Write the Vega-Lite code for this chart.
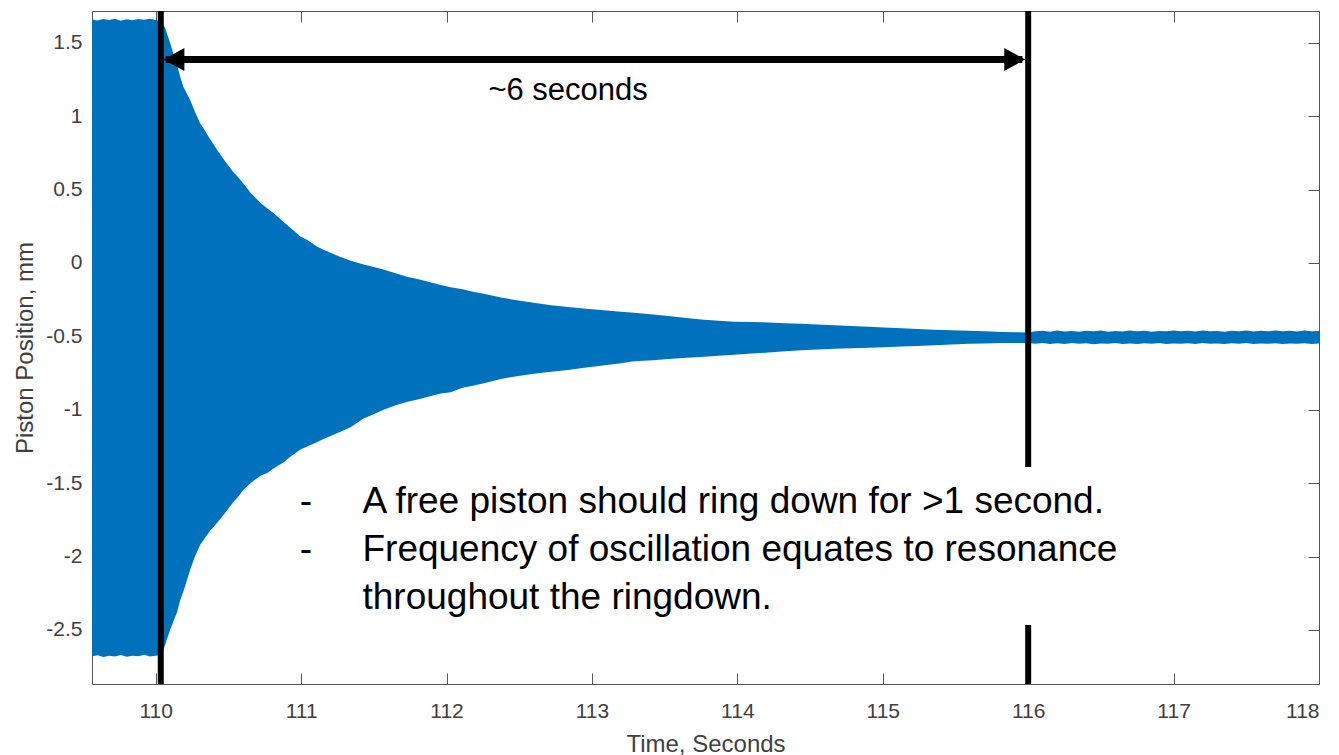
{
  "$schema": "https://vega.github.io/schema/vega-lite/v6.json",
  "width": 1227,
  "height": 673,
  "autosize": {"type": "none"},
  "padding": {"left": 92, "top": 11, "right": 20, "bottom": 71},
  "background": "white",
  "config": {
    "view": {"stroke": "#555555", "strokeWidth": 1},
    "axis": {
      "grid": false,
      "labelFont": "Liberation Sans",
      "titleFont": "Liberation Sans",
      "labelColor": "#404040",
      "titleColor": "#404040",
      "tickColor": "#555555",
      "domainColor": "#555555",
      "labelFontSize": 21,
      "titleFontSize": 24,
      "titleFontWeight": "normal",
      "domain": false
    }
  },
  "datasets": {
    "signal": [
      {"t": 109.562, "hi": 1.658, "lo": -2.679},
      {"t": 109.6, "hi": 1.652, "lo": -2.672},
      {"t": 109.64, "hi": 1.661, "lo": -2.684},
      {"t": 109.68, "hi": 1.655, "lo": -2.676},
      {"t": 109.72, "hi": 1.664, "lo": -2.681},
      {"t": 109.76, "hi": 1.65, "lo": -2.67},
      {"t": 109.8, "hi": 1.659, "lo": -2.683},
      {"t": 109.84, "hi": 1.653, "lo": -2.675},
      {"t": 109.88, "hi": 1.662, "lo": -2.679},
      {"t": 109.92, "hi": 1.657, "lo": -2.668},
      {"t": 109.96, "hi": 1.664, "lo": -2.68},
      {"t": 110.0, "hi": 1.655, "lo": -2.676},
      {"t": 110.03, "hi": 1.645, "lo": -2.67},
      {"t": 110.052, "hi": 1.62, "lo": -2.64},
      {"t": 110.065, "hi": 1.6, "lo": -2.6},
      {"t": 110.099, "hi": 1.5, "lo": -2.5},
      {"t": 110.13, "hi": 1.4, "lo": -2.42},
      {"t": 110.147, "hi": 1.35, "lo": -2.38},
      {"t": 110.168, "hi": 1.27, "lo": -2.3},
      {"t": 110.19, "hi": 1.2, "lo": -2.24},
      {"t": 110.237, "hi": 1.11, "lo": -2.09},
      {"t": 110.27, "hi": 1.03, "lo": -2.0},
      {"t": 110.306, "hi": 0.95, "lo": -1.92},
      {"t": 110.327, "hi": 0.92, "lo": -1.89},
      {"t": 110.37, "hi": 0.85, "lo": -1.83},
      {"t": 110.423, "hi": 0.77, "lo": -1.77},
      {"t": 110.48, "hi": 0.69, "lo": -1.7},
      {"t": 110.533, "hi": 0.62, "lo": -1.63},
      {"t": 110.561, "hi": 0.59, "lo": -1.6},
      {"t": 110.6, "hi": 0.545, "lo": -1.55},
      {"t": 110.651, "hi": 0.48, "lo": -1.5},
      {"t": 110.72, "hi": 0.41, "lo": -1.45},
      {"t": 110.768, "hi": 0.37, "lo": -1.43},
      {"t": 110.81, "hi": 0.34, "lo": -1.4},
      {"t": 110.878, "hi": 0.28, "lo": -1.36},
      {"t": 110.926, "hi": 0.24, "lo": -1.32},
      {"t": 110.995, "hi": 0.18, "lo": -1.27},
      {"t": 111.043, "hi": 0.157, "lo": -1.25},
      {"t": 111.112, "hi": 0.11, "lo": -1.22},
      {"t": 111.154, "hi": 0.09, "lo": -1.2},
      {"t": 111.271, "hi": 0.04, "lo": -1.15},
      {"t": 111.34, "hi": 0.015, "lo": -1.12},
      {"t": 111.43, "hi": -0.01, "lo": -1.06},
      {"t": 111.499, "hi": -0.027, "lo": -1.03},
      {"t": 111.567, "hi": -0.045, "lo": -1.0},
      {"t": 111.65, "hi": -0.07, "lo": -0.97},
      {"t": 111.733, "hi": -0.095, "lo": -0.945},
      {"t": 111.801, "hi": -0.11, "lo": -0.93},
      {"t": 111.88, "hi": -0.13, "lo": -0.91},
      {"t": 111.96, "hi": -0.15, "lo": -0.89},
      {"t": 112.029, "hi": -0.165, "lo": -0.88},
      {"t": 112.11, "hi": -0.18, "lo": -0.85},
      {"t": 112.188, "hi": -0.198, "lo": -0.835},
      {"t": 112.257, "hi": -0.21, "lo": -0.82},
      {"t": 112.374, "hi": -0.235, "lo": -0.79},
      {"t": 112.46, "hi": -0.25, "lo": -0.775},
      {"t": 112.6, "hi": -0.272, "lo": -0.755},
      {"t": 112.72, "hi": -0.288, "lo": -0.742},
      {"t": 112.835, "hi": -0.3, "lo": -0.73},
      {"t": 112.96, "hi": -0.312, "lo": -0.712},
      {"t": 113.062, "hi": -0.32, "lo": -0.7},
      {"t": 113.2, "hi": -0.332, "lo": -0.684},
      {"t": 113.29, "hi": -0.34, "lo": -0.67},
      {"t": 113.42, "hi": -0.352, "lo": -0.662},
      {"t": 113.524, "hi": -0.362, "lo": -0.655},
      {"t": 113.65, "hi": -0.375, "lo": -0.646},
      {"t": 113.751, "hi": -0.385, "lo": -0.64},
      {"t": 113.87, "hi": -0.393, "lo": -0.632},
      {"t": 113.979, "hi": -0.4, "lo": -0.625},
      {"t": 114.1, "hi": -0.403, "lo": -0.617},
      {"t": 114.214, "hi": -0.405, "lo": -0.61},
      {"t": 114.33, "hi": -0.41, "lo": -0.602},
      {"t": 114.441, "hi": -0.415, "lo": -0.595},
      {"t": 114.55, "hi": -0.42, "lo": -0.59},
      {"t": 114.668, "hi": -0.425, "lo": -0.585},
      {"t": 114.78, "hi": -0.43, "lo": -0.581},
      {"t": 114.902, "hi": -0.435, "lo": -0.578},
      {"t": 115.01, "hi": -0.44, "lo": -0.574},
      {"t": 115.13, "hi": -0.445, "lo": -0.57},
      {"t": 115.24, "hi": -0.45, "lo": -0.565},
      {"t": 115.357, "hi": -0.455, "lo": -0.56},
      {"t": 115.47, "hi": -0.458, "lo": -0.555},
      {"t": 115.592, "hi": -0.462, "lo": -0.55},
      {"t": 115.7, "hi": -0.466, "lo": -0.548},
      {"t": 115.819, "hi": -0.47, "lo": -0.545},
      {"t": 115.92, "hi": -0.472, "lo": -0.545},
      {"t": 116.0, "hi": -0.474, "lo": -0.546},
      {"t": 116.05, "hi": -0.466, "lo": -0.551},
      {"t": 116.1, "hi": -0.462, "lo": -0.546},
      {"t": 116.15, "hi": -0.468, "lo": -0.553},
      {"t": 116.2, "hi": -0.461, "lo": -0.547},
      {"t": 116.25, "hi": -0.467, "lo": -0.552},
      {"t": 116.3, "hi": -0.463, "lo": -0.545},
      {"t": 116.35, "hi": -0.469, "lo": -0.55},
      {"t": 116.4, "hi": -0.462, "lo": -0.547},
      {"t": 116.45, "hi": -0.466, "lo": -0.554},
      {"t": 116.5, "hi": -0.46, "lo": -0.548},
      {"t": 116.55, "hi": -0.468, "lo": -0.551},
      {"t": 116.6, "hi": -0.463, "lo": -0.546},
      {"t": 116.65, "hi": -0.467, "lo": -0.552},
      {"t": 116.7, "hi": -0.461, "lo": -0.549},
      {"t": 116.75, "hi": -0.466, "lo": -0.553},
      {"t": 116.8, "hi": -0.462, "lo": -0.547},
      {"t": 116.85, "hi": -0.468, "lo": -0.55},
      {"t": 116.9, "hi": -0.463, "lo": -0.546},
      {"t": 116.95, "hi": -0.465, "lo": -0.552},
      {"t": 117.0, "hi": -0.46, "lo": -0.548},
      {"t": 117.05, "hi": -0.466, "lo": -0.551},
      {"t": 117.1, "hi": -0.462, "lo": -0.547},
      {"t": 117.15, "hi": -0.467, "lo": -0.553},
      {"t": 117.2, "hi": -0.461, "lo": -0.546},
      {"t": 117.25, "hi": -0.466, "lo": -0.55},
      {"t": 117.3, "hi": -0.463, "lo": -0.548},
      {"t": 117.35, "hi": -0.468, "lo": -0.552},
      {"t": 117.4, "hi": -0.462, "lo": -0.547},
      {"t": 117.45, "hi": -0.465, "lo": -0.551},
      {"t": 117.5, "hi": -0.461, "lo": -0.546},
      {"t": 117.55, "hi": -0.467, "lo": -0.552},
      {"t": 117.6, "hi": -0.462, "lo": -0.548},
      {"t": 117.65, "hi": -0.466, "lo": -0.551},
      {"t": 117.7, "hi": -0.46, "lo": -0.547},
      {"t": 117.75, "hi": -0.465, "lo": -0.553},
      {"t": 117.8, "hi": -0.462, "lo": -0.548},
      {"t": 117.85, "hi": -0.467, "lo": -0.551},
      {"t": 117.9, "hi": -0.461, "lo": -0.547},
      {"t": 117.95, "hi": -0.466, "lo": -0.552},
      {"t": 118.0, "hi": -0.463, "lo": -0.549}
    ],
    "markers": [
      {"t": 110.035, "top": 1.716, "bottom": -2.868},
      {"t": 116.0, "top": 1.716, "bottom": -1.39},
      {"t": 116.0, "top": -2.466, "bottom": -2.868}
    ],
    "arrow": [
      {"t0": 110.07, "t1": 115.96, "y": 1.386}
    ],
    "heads": [
      {"t": 110.053, "y": 1.386, "dir": "left"},
      {"t": 115.98, "y": 1.386, "dir": "right"}
    ],
    "notes": [
      {"t": 110.99, "y": -1.703, "label": "-"},
      {"t": 111.422, "y": -1.703, "label": "A free piston should ring down for >1 second."},
      {"t": 110.99, "y": -2.03, "label": "-"},
      {"t": 111.422, "y": -2.03, "label": "Frequency of oscillation equates to resonance"},
      {"t": 111.422, "y": -2.357, "label": "throughout the ringdown."}
    ],
    "span": [
      {"t": 112.836, "y": 1.11, "label": "~6 seconds"}
    ]
  },
  "layer": [
    {
      "data": {"name": "signal"},
      "mark": {"type": "area", "color": "#0072BD", "opacity": 1},
      "encoding": {
        "x": {
          "field": "t", "type": "quantitative",
          "scale": {"domain": [109.562, 118], "nice": false, "zero": false},
          "axis": {
            "orient": "bottom",
            "values": [110, 111, 112, 113, 114, 115, 116, 117, 118],
            "labelExpr": "toString(datum.value)",
            "ticks": false,
            "labelPadding": 16,
            "title": "Time, Seconds",
            "titleBaseline": "alphabetic",
            "titleY": 67
          }
        },
        "y": {
          "field": "hi", "type": "quantitative",
          "scale": {"domain": [-2.868, 1.716], "nice": false, "zero": false},
          "axis": {
            "orient": "left",
            "values": [-2.5, -2, -1.5, -1, -0.5, 0, 0.5, 1, 1.5],
            "labelExpr": "toString(datum.value)",
            "ticks": false,
            "labelPadding": 10,
            "title": "Piston Position, mm",
            "titleBaseline": "alphabetic",
            "titleX": -60
          }
        },
        "y2": {"field": "lo"}
      }
    },
    {
      "data": {"name": "markers"},
      "mark": {"type": "rule", "color": "black", "strokeWidth": 6},
      "encoding": {
        "x": {
          "field": "t", "type": "quantitative",
          "axis": {"orient": "bottom", "values": [110, 111, 112, 113, 114, 115, 116, 117, 118], "labels": false, "ticks": true, "tickSize": -11, "title": null}
        },
        "y": {
          "field": "top", "type": "quantitative",
          "axis": {"orient": "left", "values": [-2.5, -2, -1.5, -1, -0.5, 0, 0.5, 1, 1.5], "labels": false, "ticks": true, "tickSize": -11, "title": null}
        },
        "y2": {"field": "bottom"}
      }
    },
    {
      "data": {"name": "arrow"},
      "mark": {"type": "rule", "color": "black", "strokeWidth": 7},
      "encoding": {
        "x": {
          "field": "t0", "type": "quantitative",
          "axis": {"orient": "top", "values": [110, 111, 112, 113, 114, 115, 116, 117, 118], "labels": false, "ticks": true, "tickSize": -11, "title": null}
        },
        "x2": {"field": "t1"},
        "y": {
          "field": "y", "type": "quantitative",
          "axis": {"orient": "right", "values": [-2.5, -2, -1.5, -1, -0.5, 0, 0.5, 1, 1.5], "labels": false, "ticks": true, "tickSize": -11, "title": null}
        }
      }
    },
    {
      "data": {"name": "heads"},
      "transform": [{"filter": "datum.dir == 'left'"}],
      "mark": {"type": "point", "shape": "M0,0L1.826,-1L1.826,1Z", "size": 529, "filled": true, "color": "black", "opacity": 1},
      "encoding": {
        "x": {"field": "t", "type": "quantitative", "axis": null},
        "y": {"field": "y", "type": "quantitative", "axis": null}
      }
    },
    {
      "data": {"name": "heads"},
      "transform": [{"filter": "datum.dir == 'right'"}],
      "mark": {"type": "point", "shape": "M0,0L-1.826,-1L-1.826,1Z", "size": 529, "filled": true, "color": "black", "opacity": 1},
      "encoding": {
        "x": {"field": "t", "type": "quantitative", "axis": null},
        "y": {"field": "y", "type": "quantitative", "axis": null}
      }
    },
    {
      "data": {"name": "notes"},
      "mark": {"type": "text", "align": "left", "baseline": "alphabetic", "font": "Liberation Sans", "fontSize": 37, "color": "black"},
      "encoding": {
        "x": {"field": "t", "type": "quantitative", "axis": null},
        "y": {"field": "y", "type": "quantitative", "axis": null},
        "text": {"field": "label"}
      }
    },
    {
      "data": {"name": "span"},
      "mark": {"type": "text", "align": "center", "baseline": "alphabetic", "font": "Liberation Sans", "fontSize": 31, "color": "black"},
      "encoding": {
        "x": {"field": "t", "type": "quantitative", "axis": null},
        "y": {"field": "y", "type": "quantitative", "axis": null},
        "text": {"field": "label"}
      }
    }
  ],
  "resolve": {"axis": {"x": "independent", "y": "independent"}}
}
